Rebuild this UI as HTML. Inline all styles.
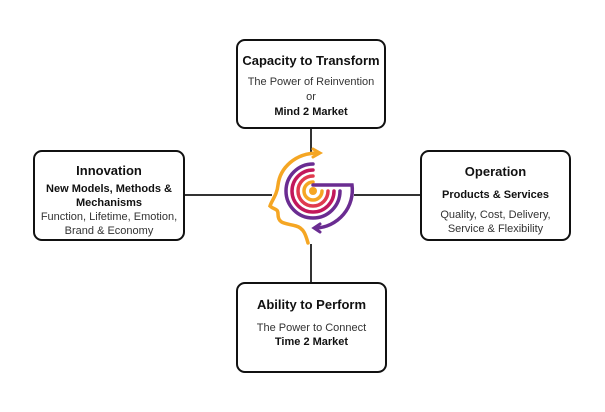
<!DOCTYPE html>
<html><head><style>
body{margin:0;width:605px;height:412px;background:#fff;position:relative;font-family:"Liberation Sans",sans-serif;overflow:hidden}
.b{position:absolute;border:2.5px solid #111;border-radius:9px;box-sizing:border-box;text-align:center;color:#111}
.t{font-weight:bold;font-size:13px}
.s{font-size:11px;color:#333}
.bs{font-size:11px;font-weight:bold}
.l{position:absolute;background:#333}
</style></head><body>
<div class="l" style="left:184px;top:194px;width:88px;height:1.5px"></div>
<div class="l" style="left:354px;top:194px;width:66px;height:1.5px"></div>
<div class="l" style="left:310px;top:128px;width:1.5px;height:24px"></div>
<div class="l" style="left:310px;top:244px;width:1.5px;height:38px"></div>

<div class="b" style="left:236px;top:39px;width:150px;height:90px">
<div class="t" style="margin-top:12px">Capacity to Transform</div>
<div class="s" style="margin-top:7px;line-height:15px">The Power of Reinvention<br>or</div>
<div class="bs" style="margin-top:1px">Mind 2 Market</div></div>

<div class="b" style="left:33px;top:150px;width:152px;height:91px">
<div class="t" style="margin-top:11px">Innovation</div>
<div class="bs" style="margin-top:4px;line-height:14px">New Models, Methods &amp;<br>Mechanisms</div>
<div class="s" style="line-height:14px">Function, Lifetime, Emotion,<br>Brand &amp; Economy</div></div>

<div class="b" style="left:420px;top:150px;width:151px;height:91px">
<div class="t" style="margin-top:12px">Operation</div>
<div class="bs" style="margin-top:10px">Products &amp; Services</div>
<div class="s" style="margin-top:7px;line-height:14px">Quality, Cost, Delivery,<br>Service &amp; Flexibility</div></div>

<div class="b" style="left:236px;top:282px;width:151px;height:91px">
<div class="t" style="margin-top:13px">Ability to Perform</div>
<div class="s" style="margin-top:10px">The Power to Connect</div>
<div class="bs" style="margin-top:2px">Time 2 Market</div></div>

<svg style="position:absolute;left:0;top:0" width="605" height="412" fill="none" stroke-linecap="round" stroke-width="3.5">
<circle cx="313" cy="191" r="4" fill="#f5a623" stroke="none"/>
<path d="M313 182 A9 9 0 1 0 322 191" stroke="#f5a623"/>
<path d="M313 176 A15 15 0 1 0 328 191" stroke="#e03a4e"/>
<path d="M313 170 A21 21 0 1 0 334 191" stroke="#c2185b"/>
<path d="M313 164 A27 27 0 1 0 340 191" stroke="#6a2c91"/>
<path d="M313 185 L352 185 A38 38 0 0 1 316 228" stroke="#6a2c91"/>
<path d="M320 224 L314 228 L320 232" stroke="#6a2c91" stroke-width="3"/>
<path d="M318 153 C295 153 280 168 278 185 C277 195 272 200 270 206 C274 210 278 208 278 214 C278 224 285 223 296 226 C304 228 306 236 308 243" stroke="#f5a623"/>
<path d="M313 149 L320 153 L313 157" stroke="#f5a623" stroke-width="3"/>
</svg>
</body></html>
